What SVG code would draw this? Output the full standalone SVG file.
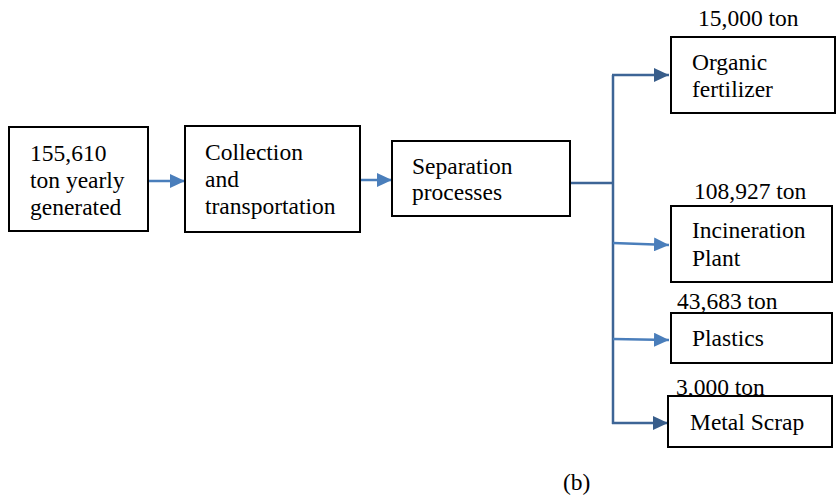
<svg xmlns="http://www.w3.org/2000/svg" width="836" height="497" viewBox="0 0 836 497">
<style>
.box{fill:#fff;stroke:#000;stroke-width:2}
.t{font-family:'Liberation Serif',Tinos,'Times New Roman','DejaVu Serif',serif;font-size:23.5px;fill:#000}
.c1{stroke:#4a7ebb;stroke-width:2.5;fill:none}
.c2{stroke:#3d6596;stroke-width:2.5;fill:none}
</style>
<defs>
<marker id="a1" markerUnits="userSpaceOnUse" markerWidth="16" markerHeight="14" refX="15" refY="7" orient="auto"><path d="M0,0 L15,7 L0,14 Z" fill="#4a7ebb"/></marker>
<marker id="a2" markerUnits="userSpaceOnUse" markerWidth="16" markerHeight="14" refX="15" refY="7" orient="auto"><path d="M0,0 L15,7 L0,14 Z" fill="#385d8a"/></marker>
</defs>
<g id="connectors">
<line class="c1" x1="148" y1="181" x2="185" y2="181" marker-end="url(#a1)"/>
<line class="c1" x1="361" y1="180" x2="392" y2="180" marker-end="url(#a1)"/>
<path class="c2" d="M571,183 H613"/>
<path class="c2" d="M613,75 V424"/>
<line class="c2" x1="612" y1="75" x2="669" y2="75" marker-end="url(#a2)"/>
<line class="c1" x1="613" y1="243" x2="669" y2="245" marker-end="url(#a1)"/>
<line class="c1" x1="613" y1="339" x2="669" y2="340" marker-end="url(#a1)"/>
<line class="c2" x1="612" y1="423" x2="668" y2="423" marker-end="url(#a2)"/>
</g>
<g class="t" font-family="'Liberation Serif', Tinos, 'DejaVu Serif', serif">
<g id="generated">
<rect class="box" x="9" y="127" width="139" height="104"/>
<text x="30" y="161">155,610</text>
<text x="30" y="188">ton yearly</text>
<text x="30" y="215">generated</text>
</g>
<g id="collection">
<rect class="box" x="185" y="126" width="175" height="106"/>
<text x="205" y="160">Collection</text>
<text x="205" y="187">and</text>
<text x="205" y="214">transportation</text>
</g>
<g id="separation">
<rect class="box" x="392" y="141" width="178" height="75"/>
<text x="412" y="174">Separation</text>
<text x="412" y="200">processes</text>
</g>
<g id="organic">
<text x="698" y="26">15,000 ton</text>
<rect class="box" x="671" y="37" width="164" height="76"/>
<text x="692" y="70">Organic</text>
<text x="692" y="97">fertilizer</text>
</g>
<g id="incineration">
<text x="694" y="199">108,927 ton</text>
<rect class="box" x="671" y="206" width="161" height="76"/>
<text x="692" y="238">Incineration</text>
<text x="692" y="266">Plant</text>
</g>
<g id="plastics">
<text x="677" y="309">43,683 ton</text>
<rect class="box" x="671" y="313" width="161" height="50"/>
<text x="692" y="346">Plastics</text>
</g>
<g id="metal">
<text x="676" y="395">3,000 ton</text>
<rect class="box" x="668" y="396" width="164" height="51"/>
<text x="690" y="430">Metal Scrap</text>
</g>
<text x="563" y="490">(b)</text>
</g>
</svg>
